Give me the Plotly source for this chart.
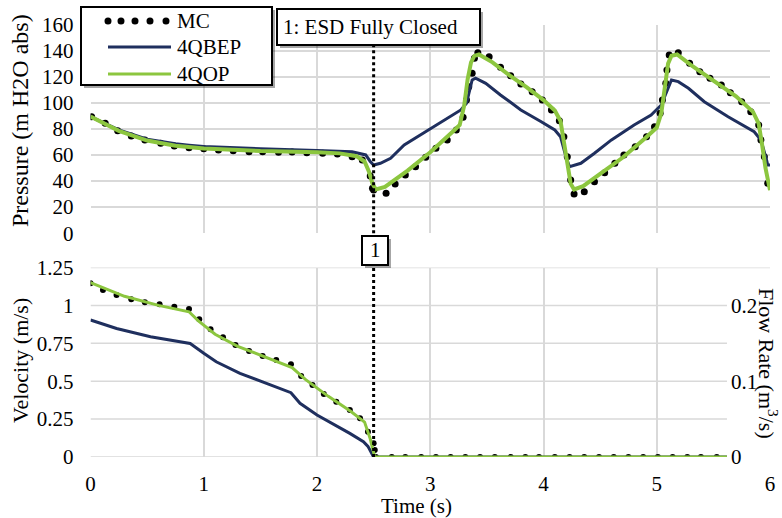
import plotly.graph_objects as go

# ---------------- data ----------------
# Pressure, MC reference solution (time s, head m H2O abs)
mc_p_t = [0.01, 0.13, 0.24, 0.36, 0.48, 0.62, 0.74, 0.87, 1.00, 1.13,
          1.26, 1.40, 1.52, 1.66, 1.78, 1.91, 2.05, 2.18, 2.31, 2.40,
          2.47, 2.49, 2.50, 2.61, 2.69, 2.78, 2.87, 2.96, 3.05, 3.15,
          3.23, 3.29, 3.32, 3.34, 3.37, 3.39, 3.42, 3.52, 3.62, 3.71,
          3.80, 3.90, 3.99, 4.07, 4.14, 4.18, 4.21, 4.24, 4.27, 4.36,
          4.45, 4.54, 4.63, 4.71, 4.81, 4.91, 4.98, 5.03, 5.05, 5.08,
          5.09, 5.11, 5.19, 5.29, 5.38, 5.47, 5.57, 5.65, 5.75, 5.83,
          5.90, 5.92, 5.95, 5.98]
mc_p = [89.3, 84.3, 78.6, 74.5, 71.5, 68.9, 66.9, 65.6, 64.8, 63.8,
        63.3, 62.5, 62.5, 62.0, 62.3, 61.7, 61.3, 60.7, 58.7, 56.1,
        43.9, 34.4, 33.1, 30.6, 37.7, 44.6, 51.0, 58.2, 65.1, 71.5,
        79.1, 88.9, 102.1, 112.3, 122.6, 134.1, 138.4, 135.3, 127.2, 120.8,
        114.4, 108.5, 102.1, 94.5, 86.3, 74.0, 58.7, 40.8, 30.1, 31.8,
        39.5, 46.4, 53.6, 60.0, 66.3, 74.0, 81.7, 91.9, 102.1, 114.9,
        125.1, 136.6, 138.4, 130.3, 123.8, 118.8, 113.6, 107.7, 100.8, 93.2,
        83.0, 71.5, 58.7, 38.3]

# Pressure, 4QBEP model
qb_p_t = [0, 0.25, 0.5, 0.75, 0.87, 1.0, 1.5, 1.72, 2.0, 2.31,
          2.43, 2.47, 2.50, 2.56, 2.65, 2.77, 2.98, 3.15, 3.27, 3.32,
          3.37, 3.40, 3.49, 3.62, 3.80, 3.98, 4.10, 4.15, 4.20, 4.23,
          4.33, 4.45, 4.60, 4.80, 4.95, 5.04, 5.09, 5.13, 5.19, 5.28,
          5.42, 5.63, 5.86, 5.92, 5.97, 5.98, 6.0]
qb_p = [89.3, 79.2, 72.0, 68.5, 67.5, 66.5, 64.8, 64.0, 63.4, 62.5,
        60.0, 55.0, 52.3, 53.6, 57.4, 67.6, 79.1, 88.1, 94.5, 99.6,
        117.5, 118.8, 114.9, 106.0, 94.5, 85.5, 79.1, 74.0, 58.0, 51.0,
        53.6, 61.3, 71.5, 83.0, 90.6, 98.3, 109.8, 117.5, 116.2, 111.1,
        100.8, 89.3, 77.8, 71.5, 56.1, 52.3, 52.3]

# Pressure, 4QOP model
op_p_t = [0, 0.25, 0.5, 0.75, 1.0, 1.5, 2.0, 2.2, 2.35, 2.42,
          2.46, 2.49, 2.52, 2.6, 2.8, 3.0, 3.2, 3.26, 3.30, 3.33,
          3.36, 3.39, 3.43, 3.55, 3.7, 3.85, 4.0, 4.1, 4.15, 4.18,
          4.21, 4.24, 4.27, 4.35, 4.5, 4.7, 4.9, 5.0, 5.04, 5.07,
          5.10, 5.13, 5.18, 5.3, 5.5, 5.7, 5.85, 5.9, 5.93, 5.96,
          6.0]
op_p = [89.5, 78.5, 71.0, 67.0, 65.0, 63.0, 62.0, 61.2, 59.0, 55.0,
        47.0, 38.0, 33.5, 35.5, 48.0, 62.0, 78.0, 83.0, 98.0, 118.0,
        131.0, 136.0, 137.0, 131.0, 121.0, 112.0, 102.0, 94.0, 86.0, 70.0,
        52.0, 38.0, 33.5, 36.0, 45.5, 58.0, 73.0, 81.0, 92.0, 112.0,
        130.0, 136.0, 137.0, 129.0, 117.0, 105.0, 93.0, 84.0, 68.0, 50.0,
        33.0]

# Velocity, MC reference solution (m/s)
mc_v_t = [0, 0.11, 0.23, 0.36, 0.48, 0.61, 0.74, 0.87, 0.96, 1.06,
          1.17, 1.28, 1.40, 1.52, 1.64, 1.77, 1.86, 1.96, 2.06, 2.17,
          2.29, 2.38, 2.45, 2.50, 2.51, 2.52, 2.66, 2.78, 2.92, 3.05,
          3.18, 3.31, 3.44, 3.57, 3.71, 3.84, 3.96, 4.10, 4.23, 4.36,
          4.49, 4.62, 4.75, 4.88, 5.01, 5.14, 5.27, 5.39, 5.53]
mc_v = [1.146, 1.102, 1.069, 1.040, 1.020, 1.007, 0.991, 0.976, 0.908, 0.842,
        0.790, 0.739, 0.699, 0.666, 0.640, 0.611, 0.534, 0.475, 0.416, 0.365,
        0.310, 0.255, 0.167, 0.090, 0.046, 0.0, 0.0, 0.0, 0.0, 0.0,
        0.0, 0.0, 0.0, 0.0, 0.0, 0.0, 0.0, 0.0, 0.0, 0.0,
        0.0, 0.0, 0.0, 0.0, 0.0, 0.0, 0.0, 0.0, 0.0]

# Velocity, 4QBEP model
qb_v_t = [0, 0.23, 0.53, 0.88, 1.0, 1.11, 1.32, 1.56, 1.77, 1.85,
          2.0, 2.29, 2.41, 2.45, 2.50, 5.62]
qb_v = [0.904, 0.848, 0.793, 0.749, 0.684, 0.628, 0.552, 0.486, 0.424, 0.354,
        0.277, 0.156, 0.101, 0.070, 0.0, 0.0]

# Velocity, 4QOP model
op_v_t = [0, 0.3, 0.6, 0.87, 0.95, 1.1, 1.3, 1.5, 1.78, 1.9,
          2.1, 2.3, 2.42, 2.47, 2.51, 5.62]
op_v = [1.15, 1.06, 1.0, 0.958, 0.90, 0.81, 0.73, 0.67, 0.59, 0.51,
        0.40, 0.30, 0.23, 0.12, 0.0, 0.0]

# Event: emergency shut-down valve fully closed
esd_closed_t = 2.5
event_label = "1: ESD Fully Closed"
event_tag = "1"

# Axis ticks
time_ticks = [0, 1, 2, 3, 4, 5, 6]
pressure_ticks = [0, 20, 40, 60, 80, 100, 120, 140, 160]
velocity_ticks = [0, 0.25, 0.5, 0.75, 1, 1.25]
velocity_tick_text = ["0", "0.25", "0.5", "0.75", "1", "1.25"]
flow_ticks = [0, 0.1, 0.2]
flow_tick_text = ["0", "0.1", "0.2"]

series_names = ["MC", "4QBEP", "4QOP"]

# ---------------- styling ----------------
W, H = 782, 518
FONT = "Liberation Serif"
BLUE = "#1F2F5E"
GREEN = "#8CC63F"
GRID = "#D9D9D9"
FS = 21


def fx(p):
    return p / W


def fy(p):
    return 1 - p / H


X_DOM = [fx(90.5), fx(770)]
TOP_DOM = [fy(233.2), fy(24.5)]
BOT_DOM = [fy(457), fy(267.5)]
GRID_END_T = 5.62  # lower panel grid stops short of the flow-rate labels

fig = go.Figure()

# upper panel: pressure
fig.add_trace(go.Scatter(x=mc_p_t, y=mc_p, mode="markers", name=series_names[0],
                         marker=dict(color="black", size=7), xaxis="x", yaxis="y",
                         showlegend=False))
fig.add_trace(go.Scatter(x=qb_p_t, y=qb_p, mode="lines", name=series_names[1],
                         line=dict(color=BLUE, width=3), xaxis="x", yaxis="y",
                         showlegend=False))
fig.add_trace(go.Scatter(x=op_p_t, y=op_p, mode="lines", name=series_names[2],
                         line=dict(color=GREEN, width=4), xaxis="x", yaxis="y",
                         showlegend=False))

# lower panel: velocity
fig.add_trace(go.Scatter(x=mc_v_t, y=mc_v, mode="markers", name=series_names[0],
                         marker=dict(color="black", size=6), xaxis="x2", yaxis="y2",
                         showlegend=False))
fig.add_trace(go.Scatter(x=qb_v_t, y=qb_v, mode="lines", name=series_names[1],
                         line=dict(color=BLUE, width=3), xaxis="x2", yaxis="y2",
                         showlegend=False))
fig.add_trace(go.Scatter(x=op_v_t, y=op_v, mode="lines", name=series_names[2],
                         line=dict(color=GREEN, width=3), xaxis="x2", yaxis="y2",
                         showlegend=False))
# empty trace so the flow-rate axis is built
fig.add_trace(go.Scatter(x=[], y=[], xaxis="x2", yaxis="y3", showlegend=False,
                         hoverinfo="skip"))

tickfont = dict(family=FONT, size=FS, color="black")

fig.update_layout(
    width=W, height=H,
    margin=dict(l=0, r=0, t=0, b=0, autoexpand=False),
    paper_bgcolor="white", plot_bgcolor="white",
    font=dict(family=FONT, size=FS, color="black"),
    showlegend=False,
    xaxis=dict(domain=X_DOM, range=[0, 6], anchor="y", tickvals=time_ticks,
               showticklabels=False, showgrid=True, gridcolor=GRID, gridwidth=1.5,
               zeroline=False, showline=False, ticks="", automargin=False),
    yaxis=dict(domain=TOP_DOM, range=[0, 160], anchor="x", tickvals=pressure_ticks,
               showgrid=True, gridcolor=GRID, gridwidth=1.5, zeroline=False,
               showline=False, ticks="", tickfont=tickfont, ticklabelstandoff=16,
               automargin=False),
    xaxis2=dict(domain=X_DOM, range=[0, 6], anchor="y2", tickvals=time_ticks,
                showgrid=True, gridcolor=GRID, gridwidth=1.5, zeroline=False,
                showline=False, ticks="", tickfont=tickfont, ticklabelstandoff=12,
                automargin=False),
    yaxis2=dict(domain=BOT_DOM, range=[0, 1.25], anchor="x2", tickvals=velocity_ticks,
                ticktext=velocity_tick_text, showgrid=False, zeroline=False,
                showline=False, ticks="", tickfont=tickfont, ticklabelstandoff=16,
                automargin=False),
    yaxis3=dict(range=[0, 0.25], overlaying="y2", anchor="free", side="right",
                position=fx(728), tickvals=flow_ticks, ticktext=flow_tick_text,
                showgrid=False, zeroline=False, showline=False, ticks="",
                tickfont=tickfont, ticklabelstandoff=2, automargin=False),
)

shapes = []
# horizontal grid of the lower panel
for lv in velocity_ticks[:-1]:
    shapes.append(dict(type="line", xref="x2", yref="y2", x0=0, x1=GRID_END_T,
                       y0=lv, y1=lv, line=dict(color=GRID, width=1.5), layer="below"))
shapes.append(dict(type="line", xref="x2", yref="y2", x0=0, x1=6,
                   y0=velocity_ticks[-1], y1=velocity_ticks[-1],
                   line=dict(color=GRID, width=1.5), layer="below"))
# white strip behind the flow-rate title (hides the right-hand grid line there)
shapes.append(dict(type="rect", xref="paper", yref="paper",
                   x0=fx(761), x1=fx(782), y0=fy(452), y1=fy(278),
                   fillcolor="white", line=dict(width=0), layer="above"))

# ESD closure marker lines
dot = dict(color="black", width=3, dash="dot")
shapes.append(dict(type="line", xref="x", yref="paper", x0=esd_closed_t, x1=esd_closed_t,
                   y0=fy(233.2), y1=fy(46), line=dot))
shapes.append(dict(type="line", xref="x2", yref="paper", x0=esd_closed_t, x1=esd_closed_t,
                   y0=fy(457), y1=fy(266), line=dot))


def boxed(x0, y0, x1, y1):
    # drop shadow + white framed box, pixel coordinates
    shapes.append(dict(type="rect", xref="paper", yref="paper",
                       x0=fx(x0 + 3), x1=fx(x1 + 3), y0=fy(y1 + 3), y1=fy(y0 + 3),
                       fillcolor="rgba(0,0,0,0.35)", line=dict(width=0), layer="above"))
    shapes.append(dict(type="rect", xref="paper", yref="paper",
                       x0=fx(x0), x1=fx(x1), y0=fy(y1), y1=fy(y0),
                       fillcolor="white", line=dict(color="black", width=2), layer="above"))


boxed(81, 7, 272, 85)       # legend
boxed(277, 9, 480, 45)      # event description
boxed(362, 236, 388, 265)   # event tag

# legend samples
for cx in [108, 121, 135, 150, 166]:
    shapes.append(dict(type="circle", xref="paper", yref="paper",
                       x0=fx(cx - 3.5), x1=fx(cx + 3.5), y0=fy(21 + 3.5), y1=fy(21 - 3.5),
                       fillcolor="black", line=dict(width=0), layer="above"))
shapes.append(dict(type="line", xref="paper", yref="paper", x0=fx(108), x1=fx(171),
                   y0=fy(47), y1=fy(47), line=dict(color=BLUE, width=3), layer="above"))
shapes.append(dict(type="line", xref="paper", yref="paper", x0=fx(108), x1=fx(171),
                   y0=fy(74), y1=fy(74), line=dict(color=GREEN, width=3), layer="above"))

fig.update_layout(shapes=shapes)

ann = []


def text(x, y, s, xanchor="center", angle=0, size=FS):
    ann.append(dict(x=fx(x), y=fy(y), xref="paper", yref="paper", text=s, showarrow=False,
                    xanchor=xanchor, yanchor="middle", textangle=angle,
                    font=dict(family=FONT, size=size, color="black")))


for name, yy in zip(series_names, [21, 47, 74]):
    text(175, yy, name, xanchor="left")
text(281, 27, event_label, xanchor="left")
text(375, 250, event_tag)
text(20, 121, "Pressure (m H2O abs)", angle=-90, size=24)
text(20, 361, "Velocity (m/s)", angle=-90, size=22)
text(416, 506, "Time (s)", size=21)
text(768, 363, "Flow Rate (m<sup>3</sup>/s)", angle=90, size=22)

fig.update_layout(annotations=ann)

fig.write_html("out.html")
